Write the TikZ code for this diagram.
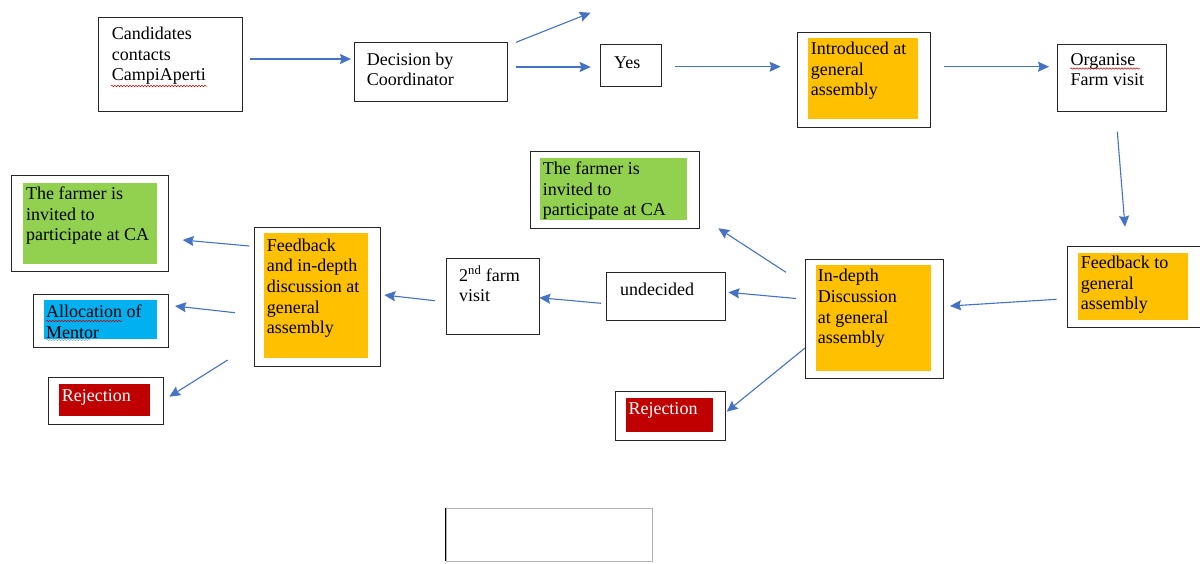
\documentclass[tikz,border=0pt]{standalone}
\usepackage{fontspec}
\setmainfont{Liberation Serif}
\usetikzlibrary{arrows.meta,fit,decorations.pathmorphing}
\definecolor{arrblue}{HTML}{4472C4}
\definecolor{orng}{HTML}{FFC000}
\definecolor{grn}{HTML}{92D050}
\definecolor{blu}{HTML}{00B0F0}
\definecolor{rd}{HTML}{C00000}
\tikzset{
  box/.style={draw=black!85, line width=1pt, inner sep=0pt, rectangle},
  fillbox/.style={fill=#1, inner sep=0pt, rectangle},
  txt/.style={font=\fontsize{18}{20.7}\selectfont, align=flush left, text width=170pt, inner sep=0pt, anchor=base west},
  arr/.style={draw=arrblue, line width=1.1pt, -{Stealth[length=11pt,width=10pt,inset=1.5pt]}},
  squig/.style={draw=red!80!black, line width=0.5pt, decorate, decoration={snake, amplitude=0.7pt, segment length=3pt}},
}
\begin{document}
\begin{tikzpicture}[x=1pt,y=-1pt]
\useasboundingbox[fill=white] (0,0) rectangle (1200,563);

% ---- top row ----
\node[box, fit={(98,17) (242,111)}] (cand) {};
\node[txt] (candT) at (111.7,39.3) {Candidates\\contacts\\CampiAperti};

\node[box, fit={(354,42) (507,101)}] (dec) {};
\node[txt] (decT) at (366.7,65) {Decision by\\Coordinator};

\node[box, fit={(600,44) (661,86)}] (yes) {};
\node[txt] (yesT) at (614,68.3) {Yes};

\node[box, fit={(797,32) (930,127)}] (intro) {};
\node[fillbox=orng, fit={(808,38) (918,119)}] (introF) {};
\node[txt] (introT) at (810.7,54.3) {Introduced at\\general\\assembly};

\node[box, fit={(1057,44) (1166,111)}] (org) {};
\node[txt] (orgT) at (1070.5,65) {Organise\\Farm visit};

% ---- middle row ----
\node[box, fit={(1067,246) (1206,327)}] (fbga) {};
\node[fillbox=orng, fit={(1078,252.5) (1188,319.5)}] (fbgaF) {};
\node[txt] (fbgaT) at (1080.7,268.3) {Feedback to\\general\\assembly};

\node[box, fit={(805,259) (943,378)}] (ind) {};
\node[fillbox=orng, fit={(815.7,265) (930.7,371)}] (indF) {};
\node[txt] (indT) at (817.7,281.7) {In-depth\\Discussion\\at general\\assembly};

\node[box, fit={(530,151) (699,228)}] (farm2) {};
\node[fillbox=grn, fit={(540,157.7) (687.3,220)}] (farm2F) {};
\node[txt] (farm2T) at (542.7,174.3) {The farmer is\\invited to\\participate at CA};

\node[box, fit={(606,272) (725.5,320)}] (und) {};
\node[txt] (undT) at (620,295) {undecided};

\node[box, fit={(446,258.3) (539,334)}] (snd) {};
\node[txt] (sndT) at (459,281) {2\textsuperscript{nd} farm\\visit};

\node[box, fit={(615,391.7) (725.5,440)}] (rej2) {};
\node[fillbox=rd, fit={(625.7,397.7) (712.7,431.7)}] (rej2F) {};
\node[txt, text=white] (rej2T) at (628.3,414.3) {Rejection};

\node[box, fit={(254,227.7) (380,366)}] (fbd) {};
\node[fillbox=orng, fit={(264,233) (367.7,358)}] (fbdF) {};
\node[txt] (fbdT) at (266.7,251) {Feedback\\and in-depth\\discussion at\\general\\assembly};

% ---- left column ----
\node[box, fit={(11.7,175) (168,271)}] (farm1) {};
\node[fillbox=grn, fit={(23,182.7) (157,264)}] (farm1F) {};
\node[txt] (farm1T) at (26,199.3) {The farmer is\\invited to\\participate at CA};

\node[box, fit={(33.5,294) (168,347)}] (alloc) {};
\node[fillbox=blu, fit={(44,300) (157,339)}] (allocF) {};
\node[txt] (allocT) at (46,317.7) {Allocation of\\Mentor};

\node[box, fit={(48,377.7) (163,424)}] (rej1) {};
\node[fillbox=rd, fit={(59,384) (150,416)}] (rej1F) {};
\node[txt, text=white] (rej1T) at (61.7,401) {Rejection};

% ---- empty box ----
\node[draw=black!30, line width=0.8pt, inner sep=0pt, fit={(446,508.3) (652.7,561)}] (empty) {};
\draw[black, line width=1pt] (empty.north west) -- (empty.south west);

% ---- spell-check squiggles ----
\coordinate (sq1a) at (111,86); \coordinate (sq1b) at (207,86);
\coordinate (sq2a) at (1070,68.5); \coordinate (sq2b) at (1140,68.5);
\coordinate (sq3a) at (46,321); \coordinate (sq3b) at (122,321);
\coordinate (sq4a) at (46,340); \coordinate (sq4b) at (90,340);
\draw[squig] (sq1a) -- (sq1b);
\draw[squig] (sq2a) -- (sq2b);
\draw[squig] (sq3a) -- (sq3b);
\draw[squig, draw=black!35] (sq4a) -- (sq4b);

% ---- arrow end points ----
\coordinate (a1s) at (250,59);     \coordinate (a1e) at (351,59);
\coordinate (a2s) at (516,42.3);   \coordinate (a2e) at (590.7,12.7);
\coordinate (a3s) at (516,67);     \coordinate (a3e) at (590.7,67);
\coordinate (a4s) at (675,66.7);   \coordinate (a4e) at (780.6,66.7);
\coordinate (a5s) at (943.5,66.7); \coordinate (a5e) at (1049,66.7);
\coordinate (a6s) at (1117.3,131.7); \coordinate (a6e) at (1125,226.7);
\coordinate (a7s) at (1056.7,299.3); \coordinate (a7e) at (950,306);
\coordinate (a8s) at (786,272.3);  \coordinate (a8e) at (718.3,228.3);
\coordinate (a9s) at (796,298.5);  \coordinate (a9e) at (728.3,292.3);
\coordinate (a10s) at (805,348);   \coordinate (a10e) at (726.7,411.7);
\coordinate (a11s) at (601,303.3); \coordinate (a11e) at (539.3,297.7);
\coordinate (a12s) at (435,300.7); \coordinate (a12e) at (384.3,295);
\coordinate (a13s) at (249.3,246); \coordinate (a13e) at (182.7,240);
\coordinate (a14s) at (235,312.7); \coordinate (a14e) at (175,306);
\coordinate (a15s) at (227.7,360); \coordinate (a15e) at (169.3,396.7);

\draw[arr] (a1s) -- (a1e);
\draw[arr] (a2s) -- (a2e);
\draw[arr] (a3s) -- (a3e);
\draw[arr] (a4s) -- (a4e);
\draw[arr] (a5s) -- (a5e);
\draw[arr] (a6s) -- (a6e);
\draw[arr] (a7s) -- (a7e);
\draw[arr] (a8s) -- (a8e);
\draw[arr] (a9s) -- (a9e);
\draw[arr] (a10s) -- (a10e);
\draw[arr] (a11s) -- (a11e);
\draw[arr] (a12s) -- (a12e);
\draw[arr] (a13s) -- (a13e);
\draw[arr] (a14s) -- (a14e);
\draw[arr] (a15s) -- (a15e);
\end{tikzpicture}
\end{document}
